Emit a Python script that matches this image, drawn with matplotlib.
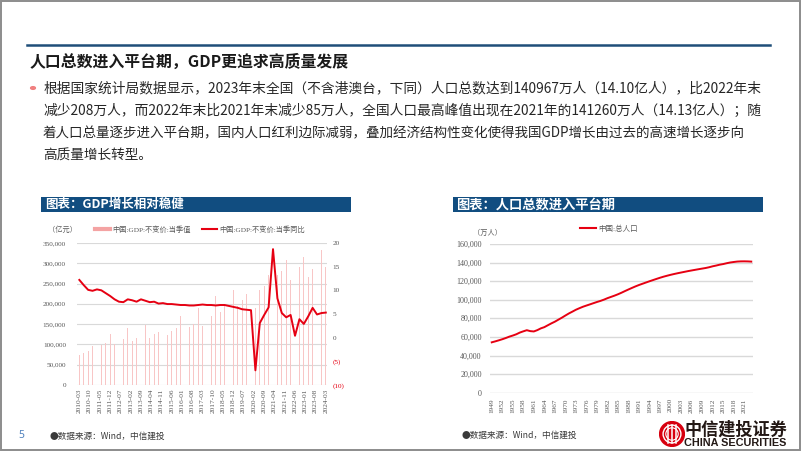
import matplotlib
matplotlib.use('Agg')
import matplotlib.pyplot as plt
from matplotlib.patches import Rectangle, Circle
from matplotlib.lines import Line2D

# ---------------- data ----------------
gdp_quarters = ['2010-03','2010-06','2010-09','2010-12','2011-03','2011-06','2011-09','2011-12',
                '2012-03','2012-06','2012-09','2012-12','2013-03','2013-06','2013-09','2013-12',
                '2014-03','2014-06','2014-09','2014-12','2015-03','2015-06','2015-09','2015-12',
                '2016-03','2016-06','2016-09','2016-12','2017-03','2017-06','2017-09','2017-12',
                '2018-03','2018-06','2018-09','2018-12','2019-03','2019-06','2019-09','2019-12',
                '2020-03','2020-06','2020-09','2020-12','2021-03','2021-06','2021-09','2021-12',
                '2022-03','2022-06','2022-09','2022-12','2023-03','2023-06','2023-09','2023-12',
                '2024-03']
gdp_values = [74000, 80000, 84000, 96000, 90000, 98000, 104000, 125000,
              100000, 108000, 114000, 140000, 108000, 117000, 123000, 148000,
              116000, 125000, 131000, 158000, 124000, 133000, 140000, 170000,
              132000, 142000, 150000, 189000, 145000, 158000, 170000, 219000,
              180000, 195000, 214000, 234000, 195000, 210000, 225000, 258000,
              190000, 234000, 245000, 272000, 250000, 270000, 280000, 308000,
              260000, 271000, 290000, 316000, 267000, 285000, 304000, 332000,
              290000]
gdp_yoy = [12.2, 11.1, 10.1, 9.9, 10.2, 10.0, 9.4, 8.8,
           8.1, 7.6, 7.5, 8.1, 7.9, 7.6, 8.1, 7.8,
           7.5, 7.6, 7.2, 7.3, 7.1, 7.1, 7.0, 6.9,
           6.9, 6.8, 6.8, 6.9, 7.0, 6.9, 6.9, 6.8,
           6.9, 6.9, 6.7, 6.5, 6.3, 6.0, 5.9, 5.8,
           -6.9, 3.1, 4.8, 6.4, 18.7, 8.3, 5.2, 4.3,
           4.8, 0.4, 3.9, 2.9, 4.5, 6.3, 4.9, 5.2,
           5.3]
gdp_xlabels = ['2010-03','2010-10','2011-05','2011-12','2012-07','2013-02','2013-09','2014-04',
               '2014-11','2015-06','2016-01','2016-08','2017-03','2017-10','2018-05','2018-12',
               '2019-07','2020-02','2020-09','2021-04','2021-11','2022-06','2023-01','2023-08',
               '2024-03']
gdp_left_ticks = [0, 50000, 100000, 150000, 200000, 250000, 300000, 350000]
gdp_right_ticks = [-10, -5, 0, 5, 10, 15, 20]
gdp_right_labels = ['(10)', '(5)', '0', '5', '10', '15', '20']

pop_years = list(range(1949, 2024))
pop_values = [54167, 55196, 56300, 57482, 58796, 60266, 61465, 62828, 64653, 65994,
              67207, 66207, 65859, 67296, 69172, 70499, 72538, 74542, 76368, 78534,
              80671, 82992, 85229, 87177, 89211, 90859, 92420, 93717, 94974, 96259,
              97542, 98705, 100072, 101654, 103008, 104357, 105851, 107507, 109300, 111026,
              112704, 114333, 115823, 117171, 118517, 119850, 121121, 122389, 123626, 124761,
              125786, 126743, 127627, 128453, 129227, 129988, 130756, 131448, 132129, 132802,
              133450, 134091, 134916, 135922, 136726, 137646, 138326, 139232, 140011, 140541,
              141008, 141212, 141260, 141175, 140967]
pop_xlabels = list(range(1949, 2022, 3))
pop_ticks = [0, 20000, 40000, 60000, 80000, 100000, 120000, 140000, 160000]

title = '人口总数进入平台期，GDP更追求高质量发展'
body_lines = ['根据国家统计局数据显示，2023年末全国（不含港澳台，下同）人口总数达到140967万人（14.10亿人），比2022年末',
              '减少208万人，而2022年末比2021年末减少85万人，全国人口最高峰值出现在2021年的141260万人（14.13亿人）；随',
              '着人口总量逐步进入平台期，国内人口红利边际减弱，叠加经济结构性变化使得我国GDP增长由过去的高速增长逐步向',
              '高质量增长转型。']
header1 = '图表：GDP增长相对稳健'
header2 = '图表：人口总数进入平台期'
legend1a = '中国:GDP:不变价:当季值'
legend1b = '中国:GDP:不变价:当季同比'
legend2 = '中国:总人口'
source = '●数据来源：Wind，中信建投'

# ---------------- figure ----------------
W, H = 802, 451
fig = plt.figure(figsize=(W / 100, H / 100), dpi=100)
CJK = ['Noto Sans CJK SC', 'DejaVu Sans']
SERIF = ['Liberation Serif', 'Noto Sans CJK SC']
renderer = fig.canvas.get_renderer()


def fx(x):
    return x / W


def fy(y):
    return 1 - y / H


def put(x, y, s, size, target=None, **kw):
    kw.setdefault('va', 'center')
    kw.setdefault('ha', 'left')
    t = fig.text(fx(x), fy(y), s, fontsize=size, **kw)
    if target:
        w = t.get_window_extent(renderer).width
        t.set_fontsize(size * target / w)
    return t


# slide frame
fig.add_artist(Rectangle((fx(1), fy(449.5)), fx(799.5) - fx(1), fy(1) - fy(449.5),
                         transform=fig.transFigure, fill=False, edgecolor='#8c8c8c', lw=1.4))
# top rule
fig.add_artist(Line2D([fx(27), fx(770)], [fy(45), fy(45)], transform=fig.transFigure,
                      color='#1f4e79', lw=1.8))

# title and body text
put(30, 62, title, 11, target=318, family=CJK, weight='bold', color='#1a1a1a')
fig.add_artist(Circle((fx(33), fy(88)), 2.4 / W, transform=fig.transFigure, color='#f08080'))
body_y = [88, 110.5, 133, 155.5]
body_target = [719, 719, 707, None]
sizes = []
for yy, s, tg in zip(body_y, body_lines, body_target):
    t = put(43, yy, s, 9.5, target=tg, family=CJK, color='#262626')
    sizes.append(t.get_fontsize())
fig.texts[-1].set_fontsize(sum(sizes[:3]) / 3)

# chart headers
HEAD = '#114d80'
fig.add_artist(Rectangle((fx(40.5), fy(211.7)), fx(350.7) - fx(40.5), fy(197.3) - fy(211.7),
                         transform=fig.transFigure, color=HEAD, lw=0))
fig.add_artist(Rectangle((fx(452.7), fy(211.7)), fx(762.7) - fx(452.7), fy(197) - fy(211.7),
                         transform=fig.transFigure, color=HEAD, lw=0))
put(45, 204.5, header1, 9, target=139, family=CJK, weight='bold', color='white')
put(456, 204.5, header2, 9, target=159, family=CJK, weight='bold', color='white')

GRID = '#d9d9d9'
TICK = '#595959'
RED = '#e60012'

# ---------------- chart 1 ----------------
months = []
for q in gdp_quarters:
    yv, mv = q.split('-')
    months.append((int(yv) - 2010) * 12 + int(mv) - 3)
xt = []
for lab in gdp_xlabels:
    yv, mv = lab.split('-')
    xt.append((int(yv) - 2010) * 12 + int(mv) - 3)

ax1 = fig.add_axes([fx(77), fy(385), (327 - 77) / W, (385 - 243) / H])
ax1.bar(months, gdp_values, width=0.6, color='#f8c6c6', zorder=2)
ax1.set_xlim(-1.6, 168.8)
ax1.set_ylim(0, 350000)
ax1.set_yticks(gdp_left_ticks)
ax1.set_yticklabels([f'{v:,}' for v in gdp_left_ticks], family=SERIF, fontsize=5.2, color=TICK)
ax1.set_xticks(xt)
ax1.set_xticklabels(gdp_xlabels, rotation=90, family=SERIF, fontsize=5.3, color=TICK)
ax1.tick_params(axis='both', length=0)
ax1.tick_params(axis='y', pad=8)
ax1.tick_params(axis='x', pad=2.5)
ax1.grid(axis='y', color=GRID, lw=0.8, zorder=0)
ax1.set_axisbelow(True)
for sp in ax1.spines.values():
    sp.set_visible(False)
ax1.patch.set_alpha(0)

ax2 = ax1.twinx()
ax2.plot(months, gdp_yoy, color=RED, lw=1.4, zorder=3)
ax2.set_ylim(-10, 20)
ax2.set_yticks(gdp_right_ticks)
ax2.set_yticklabels(gdp_right_labels, family=SERIF, fontsize=5.2)
for lab, v in zip(ax2.get_yticklabels(), gdp_right_ticks):
    lab.set_color('#e60012' if v < 0 else TICK)
ax2.tick_params(axis='y', length=0, pad=4)
for sp in ax2.spines.values():
    sp.set_visible(False)

put(48, 229.5, '（亿元）', 5.2, family=SERIF, color=TICK)
fig.add_artist(Line2D([fx(95), fx(110)], [fy(229), fy(229)], transform=fig.transFigure,
                      color='#f4a3a3', lw=3))
put(112.5, 229, legend1a, 5.2, family=SERIF, color=TICK)
fig.add_artist(Line2D([fx(202), fx(217)], [fy(229), fy(229)], transform=fig.transFigure,
                      color=RED, lw=1.5))
put(219.5, 229, legend1b, 5.2, family=SERIF, color=TICK)

# ---------------- chart 2 ----------------
ax3 = fig.add_axes([fx(490), fy(392.7), (753 - 490) / W, (392.7 - 243.9) / H])
ax3.plot(pop_years, pop_values, color=RED, lw=1.4, zorder=3)
ax3.set_xlim(1948.5, 2023.5)
ax3.set_ylim(0, 160000)
ax3.set_yticks(pop_ticks)
ax3.set_yticklabels([f'{v:,}' for v in pop_ticks], family=SERIF, fontsize=5.8, color=TICK)
ax3.set_xticks(pop_xlabels)
ax3.set_xticklabels([str(v) for v in pop_xlabels], rotation=90, family=SERIF, fontsize=5.2, color=TICK)
ax3.tick_params(axis='both', length=0)
ax3.tick_params(axis='y', pad=6)
ax3.tick_params(axis='x', pad=4)
ax3.grid(axis='y', color=GRID, lw=1.0, zorder=0)
ax3.set_axisbelow(True)
for sp in ax3.spines.values():
    sp.set_visible(False)
ax3.patch.set_alpha(0)

put(473, 232.7, '（万人）', 5.2, family=SERIF, color=TICK)
fig.add_artist(Line2D([fx(580), fx(596)], [fy(228), fy(228)], transform=fig.transFigure,
                      color=RED, lw=1.5))
put(598, 228, legend2, 5.4, family=SERIF, color=TICK)

# ---------------- footer ----------------
put(18, 436, '5', 7.5, family=['Noto Sans', 'DejaVu Sans'], color='#4f81bd')
put(50, 436, source, 6.5, target=116, family=CJK, color='#3a3a3a')
put(462, 435.5, source, 6.5, target=116, family=CJK, color='#3a3a3a')

# logo
lax = fig.add_axes([fx(659), fy(447), 26 / W, 26 / H])
lax.set_xlim(-1.05, 1.05)
lax.set_ylim(-1.05, 1.05)
lax.set_aspect('equal')
lax.axis('off')
lax.add_patch(Circle((0, 0), 1.0, color='#d7000f'))
lax.add_patch(Circle((0, 0), 0.72, fill=False, edgecolor='white', lw=1.0))
for xv in (-0.36, 0.0, 0.36):
    lax.plot([xv, xv], [-0.7, 0.7], color='white', lw=1.1)
lax.add_patch(Circle((0, 0), 0.5, fill=False, edgecolor='white', lw=0.8))
put(684, 429.5, '中信建投证券', 10, target=103, family=CJK, weight='bold', color='#231815')
put(684, 443, 'CHINA SECURITIES', 6, target=103, family=['Liberation Sans', 'DejaVu Sans'],
    weight='bold', color='#231815')

fig.savefig('out.png', dpi=100)
